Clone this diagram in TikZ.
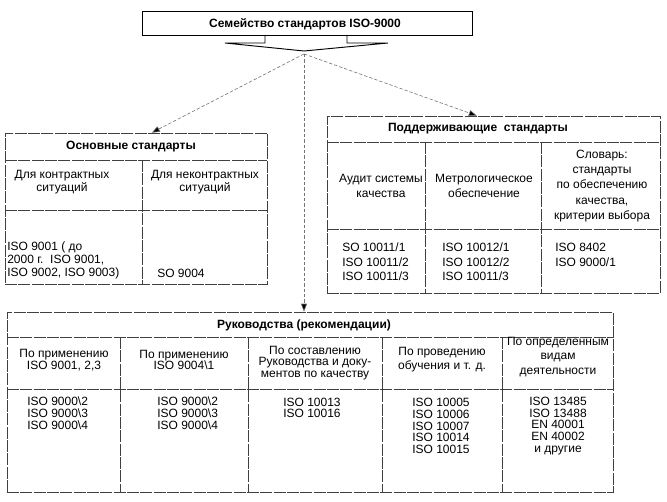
\documentclass[tikz,border=0pt]{standalone}
\usepackage{fontspec}
\setmainfont{Liberation Sans}
\usetikzlibrary{arrows.meta,fit,calc}
\tikzset{
  banner/.style={draw=black, line width=0.7pt},
  rule/.style={draw=black!75, line width=0.45pt, dash pattern=on 9pt off 1pt},
  link/.style={draw=black!55, line width=0.45pt, dash pattern=on 2.5pt off 1.5pt,
    -{Triangle[length=6pt,width=4.5pt,fill=black]}},
  head/.style={font=\bfseries\fontsize{9}{10}\selectfont, inner sep=0pt},
  cell/.style={font=\fontsize{9}{#1}\selectfont, align=center, inner sep=0pt},
  cell/.default=9.6pt
}
\begin{document}
\begin{tikzpicture}[x=0.75pt,y=-0.75pt]
  \useasboundingbox (0,0) rectangle (667,502);
  % banner
  \node[banner, minimum width=247.5pt, minimum height=18pt, inner sep=0pt] (family) at (307,23) {};
  \node[head] (familytext) at (305,24) {Семейство стандартов ISO-9000};
  \draw[banner] (265,35) |- (225,43) -- (304,51) -- (388,43) -| (347,35);
  \coordinate (apex) at (304,54);
  % boxes
  \node[rule, fit={(5,133) (267,284)}, inner sep=0pt] (basic) {};
  \node[rule, fit={(327,116) (660,293)}, inner sep=0pt] (support) {};
  \node[rule, fit={(7,312) (613,492)}, inner sep=0pt] (guide) {};
  \begin{scope}[rule]
    \draw (5,160) -- (267,160);
    \draw (5,210) -- (267,210);
    \draw (142,160) -- (142,284);
    \draw (327,142) -- (660,142);
    \draw (327,229) -- (660,229);
    \draw (425,142) -- (425,293);
    \draw (541,142) -- (541,293);
    \draw (7,337) -- (613,337);
    \draw (7,389) -- (613,389);
    \draw (120,337) -- (120,492);
    \draw (248,337) -- (248,492);
    \draw (382,337) -- (382,492);
    \draw (502,337) -- (502,492);
  \end{scope}
  % links
  \draw[link] (apex) -- ($(basic.north west)!0.56!(basic.north east)$);
  \draw[link] (apex) -- ($(support.north west)!0.45!(support.north east)$);
  \draw[link] (apex) -- (apex |- guide.north);
  % basic standards
  \node[head] (basic-t) at (131,147) {Основные стандарты};
  \node[cell] (basic-1) at (62,182) {Для контрактных\\ситуаций};
  \node[cell] (basic-2) at (205,182) {Для неконтрактных\\ситуаций};
  \node[cell=9.8pt, align=left, anchor=west] (basic-3) at (7,260) {ISO 9001 ( до\\2000 г.\ \ ISO 9001,\\ISO 9002, ISO 9003)};
  \node[cell, anchor=west] (basic-4) at (157,273) {SO 9004};
  % supporting standards
  \node[head] (support-t) at (478,129) {Поддерживающие\ \ стандарты};
  \node[cell=10.9pt] (support-1) at (381,186) {Аудит системы\\качества};
  \node[cell=10.9pt] (support-2) at (484,186) {Метрологическое\\обеспечение};
  \node[cell=11.4pt] (support-3) at (602,186) {Словарь:\\стандарты\\по обеспечению\\качества,\\критерии выбора};
  \node[cell=10.9pt, align=left, anchor=west] (support-4) at (342,262) {SO 10011/1\\ISO 10011/2\\ISO 10011/3};
  \node[cell=10.9pt, align=left, anchor=west] (support-5) at (442,262) {ISO 10012/1\\ISO 10012/2\\ISO 10011/3};
  \node[cell=10.9pt, align=left, anchor=west] (support-6) at (555,255) {ISO 8402\\ISO 9000/1};
  % guides
  \node[head] (guide-t) at (304,325) {Руководства (рекомендации)};
  \node[cell=8.6pt] (guide-1) at (64,360) {По применению\\ISO 9001, 2,3};
  \node[cell=8.6pt] (guide-2) at (184,360) {По применению\\ISO 9004\textbackslash 1};
  \node[cell=8.8pt] (guide-3) at (315,363) {По составлению\\Руководства и доку-\\ментов по качеству};
  \node[cell=10.5pt] (guide-4) at (442,360) {По проведению\\обучения и т. д.};
  \node[cell=11pt] (guide-5) at (558,357) {По определенным\\видам\\деятельности};
  \node[cell=8.8pt, align=left, anchor=west] (guide-6) at (27,413) {ISO 9000\textbackslash 2\\ISO 9000\textbackslash 3\\ISO 9000\textbackslash 4};
  \node[cell=8.8pt, align=left, anchor=west] (guide-7) at (157,413) {ISO 9000\textbackslash 2\\ISO 9000\textbackslash 3\\ISO 9000\textbackslash 4};
  \node[cell=8.8pt, align=left, anchor=west] (guide-8) at (283,408) {ISO 10013\\ISO 10016};
  \node[cell=8.8pt, align=left, anchor=west] (guide-9) at (412,426) {ISO 10005\\ISO 10006\\ISO 10007\\ISO 10014\\ISO 10015};
  \node[cell=8.8pt] (guide-10) at (558,426) {ISO 13485\\ISO 13488\\EN 40001\\EN 40002\\и другие};
\end{tikzpicture}
\end{document}
